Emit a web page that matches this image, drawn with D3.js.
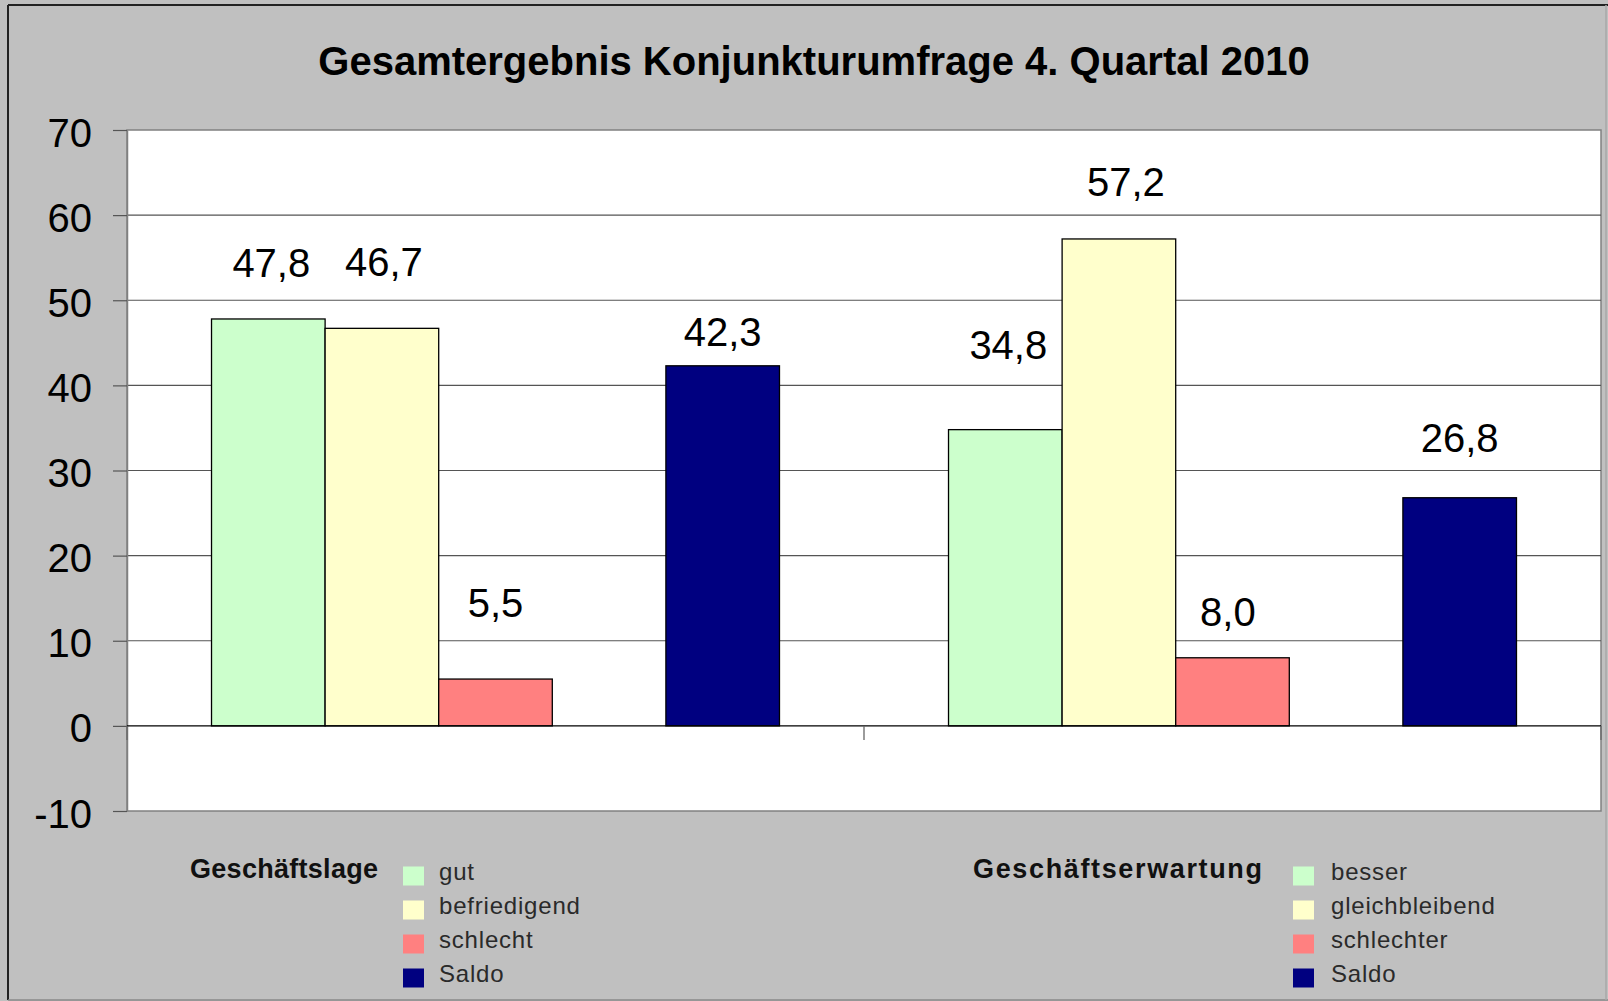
<!DOCTYPE html>
<html><head><meta charset="utf-8">
<script src="https://cdn.jsdelivr.net/npm/d3@7/dist/d3.min.js"></script>
<style>html,body{margin:0;padding:0;background:#c0c0c0;overflow:hidden;} svg{display:block;}</style>
</head><body>
<svg id="chart" width="1608" height="1001"></svg>
<script>
// ---------------- data ----------------
const title = "Gesamtergebnis Konjunkturumfrage 4. Quartal 2010";
const categories = ["Geschäftslage", "Geschäftserwartung"];
const slots = ["positiv", "neutral", "negativ", "leer", "Saldo"];
const positivValues = [47.8, 34.8];   // gut / besser
const neutralValues = [46.7, 57.2];   // befriedigend / gleichbleibend
const negativValues = [5.5, 8.0];     // schlecht / schlechter
const saldoValues = [42.3, 26.8];     // Saldo
const yTicks = [-10, 0, 10, 20, 30, 40, 50, 60, 70];
const legendGeschaeftslage = ["gut", "befriedigend", "schlecht", "Saldo"];
const legendGeschaeftserwartung = ["besser", "gleichbleibend", "schlechter", "Saldo"];
const seriesColors = ["#CCFFCC", "#FFFFCC", "#FF8080", "#000080"];

// ---------------- layout ----------------
const W = 1608, H = 1001;
const plot = {left: 127, right: 1601, top: 130, bottom: 811};
const FONT = "'Liberation Sans', Arial, Helvetica, sans-serif";
// manual data-label placement (px above bar top to label centre, and x shift)
const labelLift = [[56.6, 66.6, 76.7, 33.7], [84.8, 57, 45.8, 60]];
const labelShift = [[3, 2, 0, 0], [3, 7, -4.6, 0]];

const svg = d3.select("#chart");

svg.append("rect").attr("x", 0).attr("y", 0).attr("width", W).attr("height", H).attr("fill", "#c0c0c0");

const x0 = d3.scaleBand().domain(categories).range([plot.left, plot.right]).paddingInner(0).paddingOuter(0);
const x1 = d3.scaleBand().domain(slots).range([0, x0.bandwidth()]).paddingInner(0).paddingOuter(0.744);
const y = d3.scaleLinear().domain([-10, 70]).range([plot.bottom, plot.top]);

// plot area
svg.append("rect")
  .attr("x", plot.left).attr("y", plot.top)
  .attr("width", plot.right - plot.left).attr("height", plot.bottom - plot.top)
  .attr("fill", "#ffffff").attr("stroke", "#808080").attr("stroke-width", 1.5);

// gridlines
svg.append("g").selectAll("line")
  .data(yTicks.filter(t => t !== 0 && t !== -10 && t !== 70))
  .join("line")
  .attr("x1", plot.left).attr("x2", plot.right)
  .attr("y1", d => y(d)).attr("y2", d => y(d))
  .attr("stroke", "#555").attr("stroke-width", 1.2);

// y axis
const yAxis = svg.append("g")
  .attr("transform", `translate(${plot.left},0)`)
  .call(d3.axisLeft(y).tickValues(yTicks).tickSize(14).tickPadding(21).tickSizeOuter(0)
    .tickFormat(d => String(d)));
yAxis.select(".domain").attr("stroke", "#808080").attr("stroke-width", 1.5);
yAxis.selectAll(".tick line").attr("stroke", "#555").attr("stroke-width", 1.2);
yAxis.selectAll(".tick text")
  .attr("font-family", FONT).attr("font-size", 40).attr("fill", "#000")
  .attr("dy", "0.4em");

// bars
const rows = categories.map((c, i) => [
  {cat: c, slot: "positiv", value: positivValues[i], color: seriesColors[0], k: 0, i},
  {cat: c, slot: "neutral", value: neutralValues[i], color: seriesColors[1], k: 1, i},
  {cat: c, slot: "negativ", value: negativValues[i], color: seriesColors[2], k: 2, i},
  {cat: c, slot: "Saldo", value: saldoValues[i], color: seriesColors[3], k: 3, i}
]).flat();

svg.append("g").selectAll("rect")
  .data(rows)
  .join("rect")
  .attr("x", d => x0(d.cat) + x1(d.slot))
  .attr("width", x1.bandwidth())
  .attr("y", d => y(Math.max(0, d.value)))
  .attr("height", d => Math.abs(y(d.value) - y(0)))
  .attr("fill", d => d.color)
  .attr("stroke", "#000").attr("stroke-width", 1.3);

// zero line + category ticks
svg.append("line")
  .attr("x1", plot.left).attr("x2", plot.right)
  .attr("y1", y(0)).attr("y2", y(0))
  .attr("stroke", "#000").attr("stroke-width", 1.3);
const boundaries = categories.map(c => x0(c)).concat([x0.range()[1]]);
svg.append("g").selectAll("line")
  .data(boundaries)
  .join("line")
  .attr("x1", d => d).attr("x2", d => d)
  .attr("y1", y(0)).attr("y2", y(0) + 14)
  .attr("stroke", "#666").attr("stroke-width", 1.3);

// data labels
const locale = d3.formatLocale({decimal: ",", thousands: ".", grouping: [3], currency: ["", " €"], minus: "-"});
const fmt = locale.format(".1f");
svg.append("g").selectAll("text")
  .data(rows)
  .join("text")
  .attr("x", d => x0(d.cat) + x1(d.slot) + x1.bandwidth() / 2 + labelShift[d.i][d.k])
  .attr("y", d => y(d.value) - labelLift[d.i][d.k] + 14.3)
  .attr("text-anchor", "middle")
  .attr("font-family", FONT).attr("font-size", 40).attr("fill", "#000")
  .text(d => fmt(d.value));

// title
svg.append("text")
  .attr("x", 814).attr("y", 75)
  .attr("text-anchor", "middle")
  .attr("font-family", FONT).attr("font-size", 40).attr("font-weight", "bold").attr("fill", "#000")
  .text(title);

// legend
const legendGroups = [
  {heading: categories[0], items: legendGeschaeftslage, hx: 190, hw: 188, sx: 403, tx: 439},
  {heading: categories[1], items: legendGeschaeftserwartung, hx: 973, hw: 289, sx: 1293, tx: 1331}
];
const legendTop = 876, legendStep = 34;
legendGroups.forEach(g => {
  const lg = svg.append("g");
  lg.append("text")
    .attr("x", g.hx).attr("y", legendTop + 2)
    .attr("font-family", FONT).attr("font-size", 27).attr("font-weight", "bold")
    .attr("textLength", g.hw).attr("lengthAdjust", "spacing").attr("fill", "#111")
    .text(g.heading);
  lg.selectAll("rect").data(g.items).join("rect")
    .attr("x", g.sx).attr("y", (d, i) => legendTop + i * legendStep - 9.5)
    .attr("width", 21).attr("height", 19)
    .attr("fill", (d, i) => seriesColors[i]);
  lg.selectAll("text.item").data(g.items).join("text")
    .attr("class", "item")
    .attr("x", g.tx).attr("y", (d, i) => legendTop + i * legendStep + 4)
    .attr("font-family", FONT).attr("font-size", 24)
    .attr("letter-spacing", 0.8).attr("fill", "#2a2a2a")
    .text(d => d);
});

// outer frame
svg.append("line").attr("x1", 8).attr("x2", 8).attr("y1", 5).attr("y2", 1000).attr("stroke", "#222").attr("stroke-width", 2);
svg.append("line").attr("x1", 8).attr("x2", W).attr("y1", 5).attr("y2", 5).attr("stroke", "#222").attr("stroke-width", 2);
svg.append("line").attr("x1", 8).attr("x2", W).attr("y1", 1000).attr("y2", 1000).attr("stroke", "#888").attr("stroke-width", 1.5);
svg.append("line").attr("x1", 1606).attr("x2", 1606).attr("y1", 5).attr("y2", 1000).attr("stroke", "#a8a8a8").attr("stroke-width", 1.5);
</script>
</body></html>
